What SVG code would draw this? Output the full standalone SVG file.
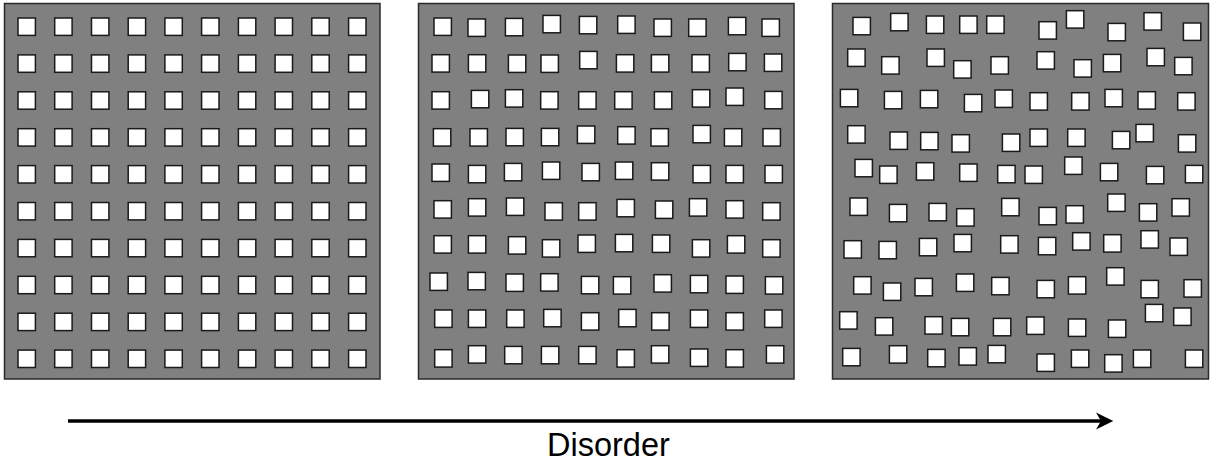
<svg xmlns="http://www.w3.org/2000/svg" xmlns:xlink="http://www.w3.org/1999/xlink" width="1211" height="467" viewBox="0 0 1211 467">
<style>
.panel{fill:#808080;stroke:#2a2a2a;stroke-width:1.5}
.sq{fill:#ffffff;stroke:#1a1a1a;stroke-width:1.5}
.lbl{font-family:"Liberation Sans",Arial,sans-serif;font-size:32.5px;fill:#000}
</style>
<defs>
<rect id="sq" class="sq" x="0.7" y="0.7" width="17.4" height="17.4"/>
<marker id="ah" viewBox="0 0 20 20" refX="5" refY="10" markerWidth="20" markerHeight="20" markerUnits="userSpaceOnUse" orient="auto">
<path d="M17.3,10 L0,1.5 L5,10 L0,18.5 Z" fill="#000"/>
</marker>
</defs>
<g id="panel-ordered">
<rect class="panel" x="4.5" y="3.5" width="375.5" height="375.5"/>
<g>
<use href="#sq" x="17.3" y="17.3"/><use href="#sq" x="54" y="17.3"/><use href="#sq" x="90.8" y="17.3"/><use href="#sq" x="127.5" y="17.3"/><use href="#sq" x="164.2" y="17.3"/><use href="#sq" x="200.9" y="17.3"/><use href="#sq" x="237.7" y="17.3"/><use href="#sq" x="274.4" y="17.3"/><use href="#sq" x="311.1" y="17.3"/><use href="#sq" x="347.9" y="17.3"/>
<use href="#sq" x="17.3" y="54.2"/><use href="#sq" x="54" y="54.2"/><use href="#sq" x="90.8" y="54.2"/><use href="#sq" x="127.5" y="54.2"/><use href="#sq" x="164.2" y="54.2"/><use href="#sq" x="200.9" y="54.2"/><use href="#sq" x="237.7" y="54.2"/><use href="#sq" x="274.4" y="54.2"/><use href="#sq" x="311.1" y="54.2"/><use href="#sq" x="347.9" y="54.2"/>
<use href="#sq" x="17.3" y="91.1"/><use href="#sq" x="54" y="91.1"/><use href="#sq" x="90.8" y="91.1"/><use href="#sq" x="127.5" y="91.1"/><use href="#sq" x="164.2" y="91.1"/><use href="#sq" x="200.9" y="91.1"/><use href="#sq" x="237.7" y="91.1"/><use href="#sq" x="274.4" y="91.1"/><use href="#sq" x="311.1" y="91.1"/><use href="#sq" x="347.9" y="91.1"/>
<use href="#sq" x="17.3" y="128"/><use href="#sq" x="54" y="128"/><use href="#sq" x="90.8" y="128"/><use href="#sq" x="127.5" y="128"/><use href="#sq" x="164.2" y="128"/><use href="#sq" x="200.9" y="128"/><use href="#sq" x="237.7" y="128"/><use href="#sq" x="274.4" y="128"/><use href="#sq" x="311.1" y="128"/><use href="#sq" x="347.9" y="128"/>
<use href="#sq" x="17.3" y="164.9"/><use href="#sq" x="54" y="164.9"/><use href="#sq" x="90.8" y="164.9"/><use href="#sq" x="127.5" y="164.9"/><use href="#sq" x="164.2" y="164.9"/><use href="#sq" x="200.9" y="164.9"/><use href="#sq" x="237.7" y="164.9"/><use href="#sq" x="274.4" y="164.9"/><use href="#sq" x="311.1" y="164.9"/><use href="#sq" x="347.9" y="164.9"/>
<use href="#sq" x="17.3" y="201.8"/><use href="#sq" x="54" y="201.8"/><use href="#sq" x="90.8" y="201.8"/><use href="#sq" x="127.5" y="201.8"/><use href="#sq" x="164.2" y="201.8"/><use href="#sq" x="200.9" y="201.8"/><use href="#sq" x="237.7" y="201.8"/><use href="#sq" x="274.4" y="201.8"/><use href="#sq" x="311.1" y="201.8"/><use href="#sq" x="347.9" y="201.8"/>
<use href="#sq" x="17.3" y="238.7"/><use href="#sq" x="54" y="238.7"/><use href="#sq" x="90.8" y="238.7"/><use href="#sq" x="127.5" y="238.7"/><use href="#sq" x="164.2" y="238.7"/><use href="#sq" x="200.9" y="238.7"/><use href="#sq" x="237.7" y="238.7"/><use href="#sq" x="274.4" y="238.7"/><use href="#sq" x="311.1" y="238.7"/><use href="#sq" x="347.9" y="238.7"/>
<use href="#sq" x="17.3" y="275.6"/><use href="#sq" x="54" y="275.6"/><use href="#sq" x="90.8" y="275.6"/><use href="#sq" x="127.5" y="275.6"/><use href="#sq" x="164.2" y="275.6"/><use href="#sq" x="200.9" y="275.6"/><use href="#sq" x="237.7" y="275.6"/><use href="#sq" x="274.4" y="275.6"/><use href="#sq" x="311.1" y="275.6"/><use href="#sq" x="347.9" y="275.6"/>
<use href="#sq" x="17.3" y="312.5"/><use href="#sq" x="54" y="312.5"/><use href="#sq" x="90.8" y="312.5"/><use href="#sq" x="127.5" y="312.5"/><use href="#sq" x="164.2" y="312.5"/><use href="#sq" x="200.9" y="312.5"/><use href="#sq" x="237.7" y="312.5"/><use href="#sq" x="274.4" y="312.5"/><use href="#sq" x="311.1" y="312.5"/><use href="#sq" x="347.9" y="312.5"/>
<use href="#sq" x="17.3" y="349.4"/><use href="#sq" x="54" y="349.4"/><use href="#sq" x="90.8" y="349.4"/><use href="#sq" x="127.5" y="349.4"/><use href="#sq" x="164.2" y="349.4"/><use href="#sq" x="200.9" y="349.4"/><use href="#sq" x="237.7" y="349.4"/><use href="#sq" x="274.4" y="349.4"/><use href="#sq" x="311.1" y="349.4"/><use href="#sq" x="347.9" y="349.4"/>
</g>
</g>
<g id="panel-perturbed">
<rect class="panel" x="418.5" y="3.5" width="375.5" height="375.5"/>
<g>
<use href="#sq" x="433.3" y="17.3"/><use href="#sq" x="467.3" y="18.3"/><use href="#sq" x="504.7" y="17.7"/><use href="#sq" x="542.3" y="14.7"/><use href="#sq" x="578.7" y="15.7"/><use href="#sq" x="617" y="15.3"/><use href="#sq" x="653.3" y="18.3"/><use href="#sq" x="688" y="18.3"/><use href="#sq" x="727.7" y="16.7"/><use href="#sq" x="761.3" y="18.3"/>
<use href="#sq" x="431.3" y="54"/><use href="#sq" x="467.7" y="54"/><use href="#sq" x="507.7" y="54.3"/><use href="#sq" x="540.3" y="54.3"/><use href="#sq" x="579" y="50.7"/><use href="#sq" x="615.7" y="54"/><use href="#sq" x="650.7" y="54"/><use href="#sq" x="691.3" y="54"/><use href="#sq" x="728" y="52.7"/><use href="#sq" x="763.7" y="53.3"/>
<use href="#sq" x="431.3" y="91"/><use href="#sq" x="470.7" y="89.7"/><use href="#sq" x="504.7" y="89"/><use href="#sq" x="540" y="91"/><use href="#sq" x="578" y="91"/><use href="#sq" x="614" y="91"/><use href="#sq" x="653.7" y="91"/><use href="#sq" x="691.7" y="89"/><use href="#sq" x="725.3" y="87.3"/><use href="#sq" x="764" y="90.7"/>
<use href="#sq" x="432.7" y="128"/><use href="#sq" x="469.3" y="128"/><use href="#sq" x="505.3" y="127.7"/><use href="#sq" x="540.7" y="127.7"/><use href="#sq" x="576.7" y="125.3"/><use href="#sq" x="617" y="126"/><use href="#sq" x="650.3" y="128"/><use href="#sq" x="692.3" y="124.7"/><use href="#sq" x="723.7" y="128"/><use href="#sq" x="762.3" y="128"/>
<use href="#sq" x="431.3" y="163.3"/><use href="#sq" x="467.7" y="164.7"/><use href="#sq" x="503.7" y="162.7"/><use href="#sq" x="541.7" y="161.3"/><use href="#sq" x="581.3" y="162.7"/><use href="#sq" x="614.7" y="161.3"/><use href="#sq" x="650.7" y="162"/><use href="#sq" x="692.3" y="164.7"/><use href="#sq" x="725.3" y="164.7"/><use href="#sq" x="764.3" y="164.7"/>
<use href="#sq" x="433.3" y="200"/><use href="#sq" x="467.7" y="198"/><use href="#sq" x="505.7" y="197.3"/><use href="#sq" x="544.3" y="202"/><use href="#sq" x="578" y="202"/><use href="#sq" x="616.3" y="198.7"/><use href="#sq" x="654.7" y="200.3"/><use href="#sq" x="688.7" y="198"/><use href="#sq" x="725.3" y="200"/><use href="#sq" x="762" y="202"/>
<use href="#sq" x="433.3" y="235"/><use href="#sq" x="467.7" y="235"/><use href="#sq" x="507.7" y="236"/><use href="#sq" x="541.7" y="239"/><use href="#sq" x="577.3" y="234.3"/><use href="#sq" x="614.7" y="233.7"/><use href="#sq" x="651.7" y="234.3"/><use href="#sq" x="691.7" y="239"/><use href="#sq" x="726.7" y="235"/><use href="#sq" x="762" y="239"/>
<use href="#sq" x="429.3" y="272.3"/><use href="#sq" x="467.3" y="271.7"/><use href="#sq" x="505.3" y="273.3"/><use href="#sq" x="540" y="273"/><use href="#sq" x="580.7" y="275.7"/><use href="#sq" x="612.7" y="276"/><use href="#sq" x="653.3" y="274"/><use href="#sq" x="689.7" y="274.7"/><use href="#sq" x="725.3" y="275.3"/><use href="#sq" x="764.7" y="276"/>
<use href="#sq" x="434" y="309.3"/><use href="#sq" x="467.7" y="309.3"/><use href="#sq" x="506" y="309.3"/><use href="#sq" x="543" y="308.7"/><use href="#sq" x="580.7" y="312"/><use href="#sq" x="618" y="308.7"/><use href="#sq" x="651" y="312"/><use href="#sq" x="689.7" y="309.3"/><use href="#sq" x="725.3" y="312"/><use href="#sq" x="764" y="309.3"/>
<use href="#sq" x="434" y="349"/><use href="#sq" x="467.7" y="345"/><use href="#sq" x="504" y="345.7"/><use href="#sq" x="540.7" y="345.7"/><use href="#sq" x="578" y="345.7"/><use href="#sq" x="616.3" y="349"/><use href="#sq" x="650.7" y="345"/><use href="#sq" x="689.7" y="348.3"/><use href="#sq" x="725.3" y="349"/><use href="#sq" x="765.7" y="345"/>
</g>
</g>
<g id="panel-disordered">
<rect class="panel" x="832.5" y="3.5" width="376" height="375.5"/>
<g>
<use href="#sq" x="852.3" y="16.7"/><use href="#sq" x="890" y="12.7"/><use href="#sq" x="925.7" y="15.3"/><use href="#sq" x="959" y="15.3"/><use href="#sq" x="986" y="15.3"/><use href="#sq" x="1038.3" y="21"/><use href="#sq" x="1065.7" y="10"/><use href="#sq" x="1107.3" y="22.7"/><use href="#sq" x="1143.3" y="12"/><use href="#sq" x="1182.7" y="22.3"/>
<use href="#sq" x="847" y="48.3"/><use href="#sq" x="881" y="56"/><use href="#sq" x="926.3" y="48.3"/><use href="#sq" x="953" y="60"/><use href="#sq" x="990.3" y="56"/><use href="#sq" x="1036.3" y="51"/><use href="#sq" x="1073.3" y="59"/><use href="#sq" x="1102.7" y="53.7"/><use href="#sq" x="1146.3" y="47.7"/><use href="#sq" x="1174" y="56.7"/>
<use href="#sq" x="839.7" y="88.7"/><use href="#sq" x="883.7" y="90.7"/><use href="#sq" x="919.7" y="89.7"/><use href="#sq" x="963.7" y="93.7"/><use href="#sq" x="994.3" y="89.3"/><use href="#sq" x="1029.3" y="92"/><use href="#sq" x="1071" y="92"/><use href="#sq" x="1104.3" y="88.7"/><use href="#sq" x="1137.3" y="91"/><use href="#sq" x="1177" y="92"/>
<use href="#sq" x="847" y="125"/><use href="#sq" x="889.3" y="131.3"/><use href="#sq" x="920" y="131.7"/><use href="#sq" x="951.3" y="134"/><use href="#sq" x="1001.7" y="133.3"/><use href="#sq" x="1029.3" y="128.3"/><use href="#sq" x="1067" y="128.3"/><use href="#sq" x="1111.7" y="130.7"/><use href="#sq" x="1135.3" y="123.7"/><use href="#sq" x="1177.7" y="134"/>
<use href="#sq" x="854.3" y="158.7"/><use href="#sq" x="879" y="165.3"/><use href="#sq" x="915.7" y="162"/><use href="#sq" x="959" y="163.3"/><use href="#sq" x="997" y="164.7"/><use href="#sq" x="1024.3" y="165.3"/><use href="#sq" x="1064" y="156.3"/><use href="#sq" x="1099.7" y="162.7"/><use href="#sq" x="1145.7" y="165.7"/><use href="#sq" x="1184.7" y="164.7"/>
<use href="#sq" x="849.3" y="197.3"/><use href="#sq" x="888.7" y="203.7"/><use href="#sq" x="928.3" y="202.7"/><use href="#sq" x="956" y="208"/><use href="#sq" x="1001" y="197.7"/><use href="#sq" x="1038.3" y="206.7"/><use href="#sq" x="1065.3" y="205"/><use href="#sq" x="1107" y="193.3"/><use href="#sq" x="1138.7" y="203"/><use href="#sq" x="1171.3" y="198"/>
<use href="#sq" x="843.3" y="240"/><use href="#sq" x="878.3" y="240.7"/><use href="#sq" x="918.7" y="237.7"/><use href="#sq" x="953.3" y="233.7"/><use href="#sq" x="1000" y="235"/><use href="#sq" x="1037.7" y="236.7"/><use href="#sq" x="1072" y="232"/><use href="#sq" x="1103" y="234"/><use href="#sq" x="1140.3" y="230"/><use href="#sq" x="1169.3" y="237.3"/>
<use href="#sq" x="853" y="276"/><use href="#sq" x="882.7" y="282.3"/><use href="#sq" x="914.3" y="277.7"/><use href="#sq" x="955.7" y="273.3"/><use href="#sq" x="991" y="276.7"/><use href="#sq" x="1036.3" y="279.7"/><use href="#sq" x="1067.7" y="276"/><use href="#sq" x="1106" y="267"/><use href="#sq" x="1140.3" y="279.7"/><use href="#sq" x="1183.3" y="279"/>
<use href="#sq" x="839" y="311"/><use href="#sq" x="874.7" y="317"/><use href="#sq" x="924.3" y="316"/><use href="#sq" x="950.7" y="317.7"/><use href="#sq" x="992.7" y="317.7"/><use href="#sq" x="1026" y="316.3"/><use href="#sq" x="1067.7" y="318.3"/><use href="#sq" x="1107.7" y="319.3"/><use href="#sq" x="1144.7" y="303.7"/><use href="#sq" x="1173" y="307.3"/>
<use href="#sq" x="842" y="347.7"/><use href="#sq" x="888.7" y="345"/><use href="#sq" x="927" y="348.7"/><use href="#sq" x="958.3" y="347"/><use href="#sq" x="987.3" y="344.7"/><use href="#sq" x="1036.3" y="353.3"/><use href="#sq" x="1070.7" y="349.3"/><use href="#sq" x="1104" y="354"/><use href="#sq" x="1132.7" y="349.3"/><use href="#sq" x="1184.7" y="349.3"/>
</g>
</g>
<g id="connectors">
<line x1="68" y1="421" x2="1101" y2="421" stroke="#000" stroke-width="3.5" marker-end="url(#ah)"/>
</g>
<g id="label">
<text class="lbl" x="547" y="456">Disorder</text>
</g>
</svg>
